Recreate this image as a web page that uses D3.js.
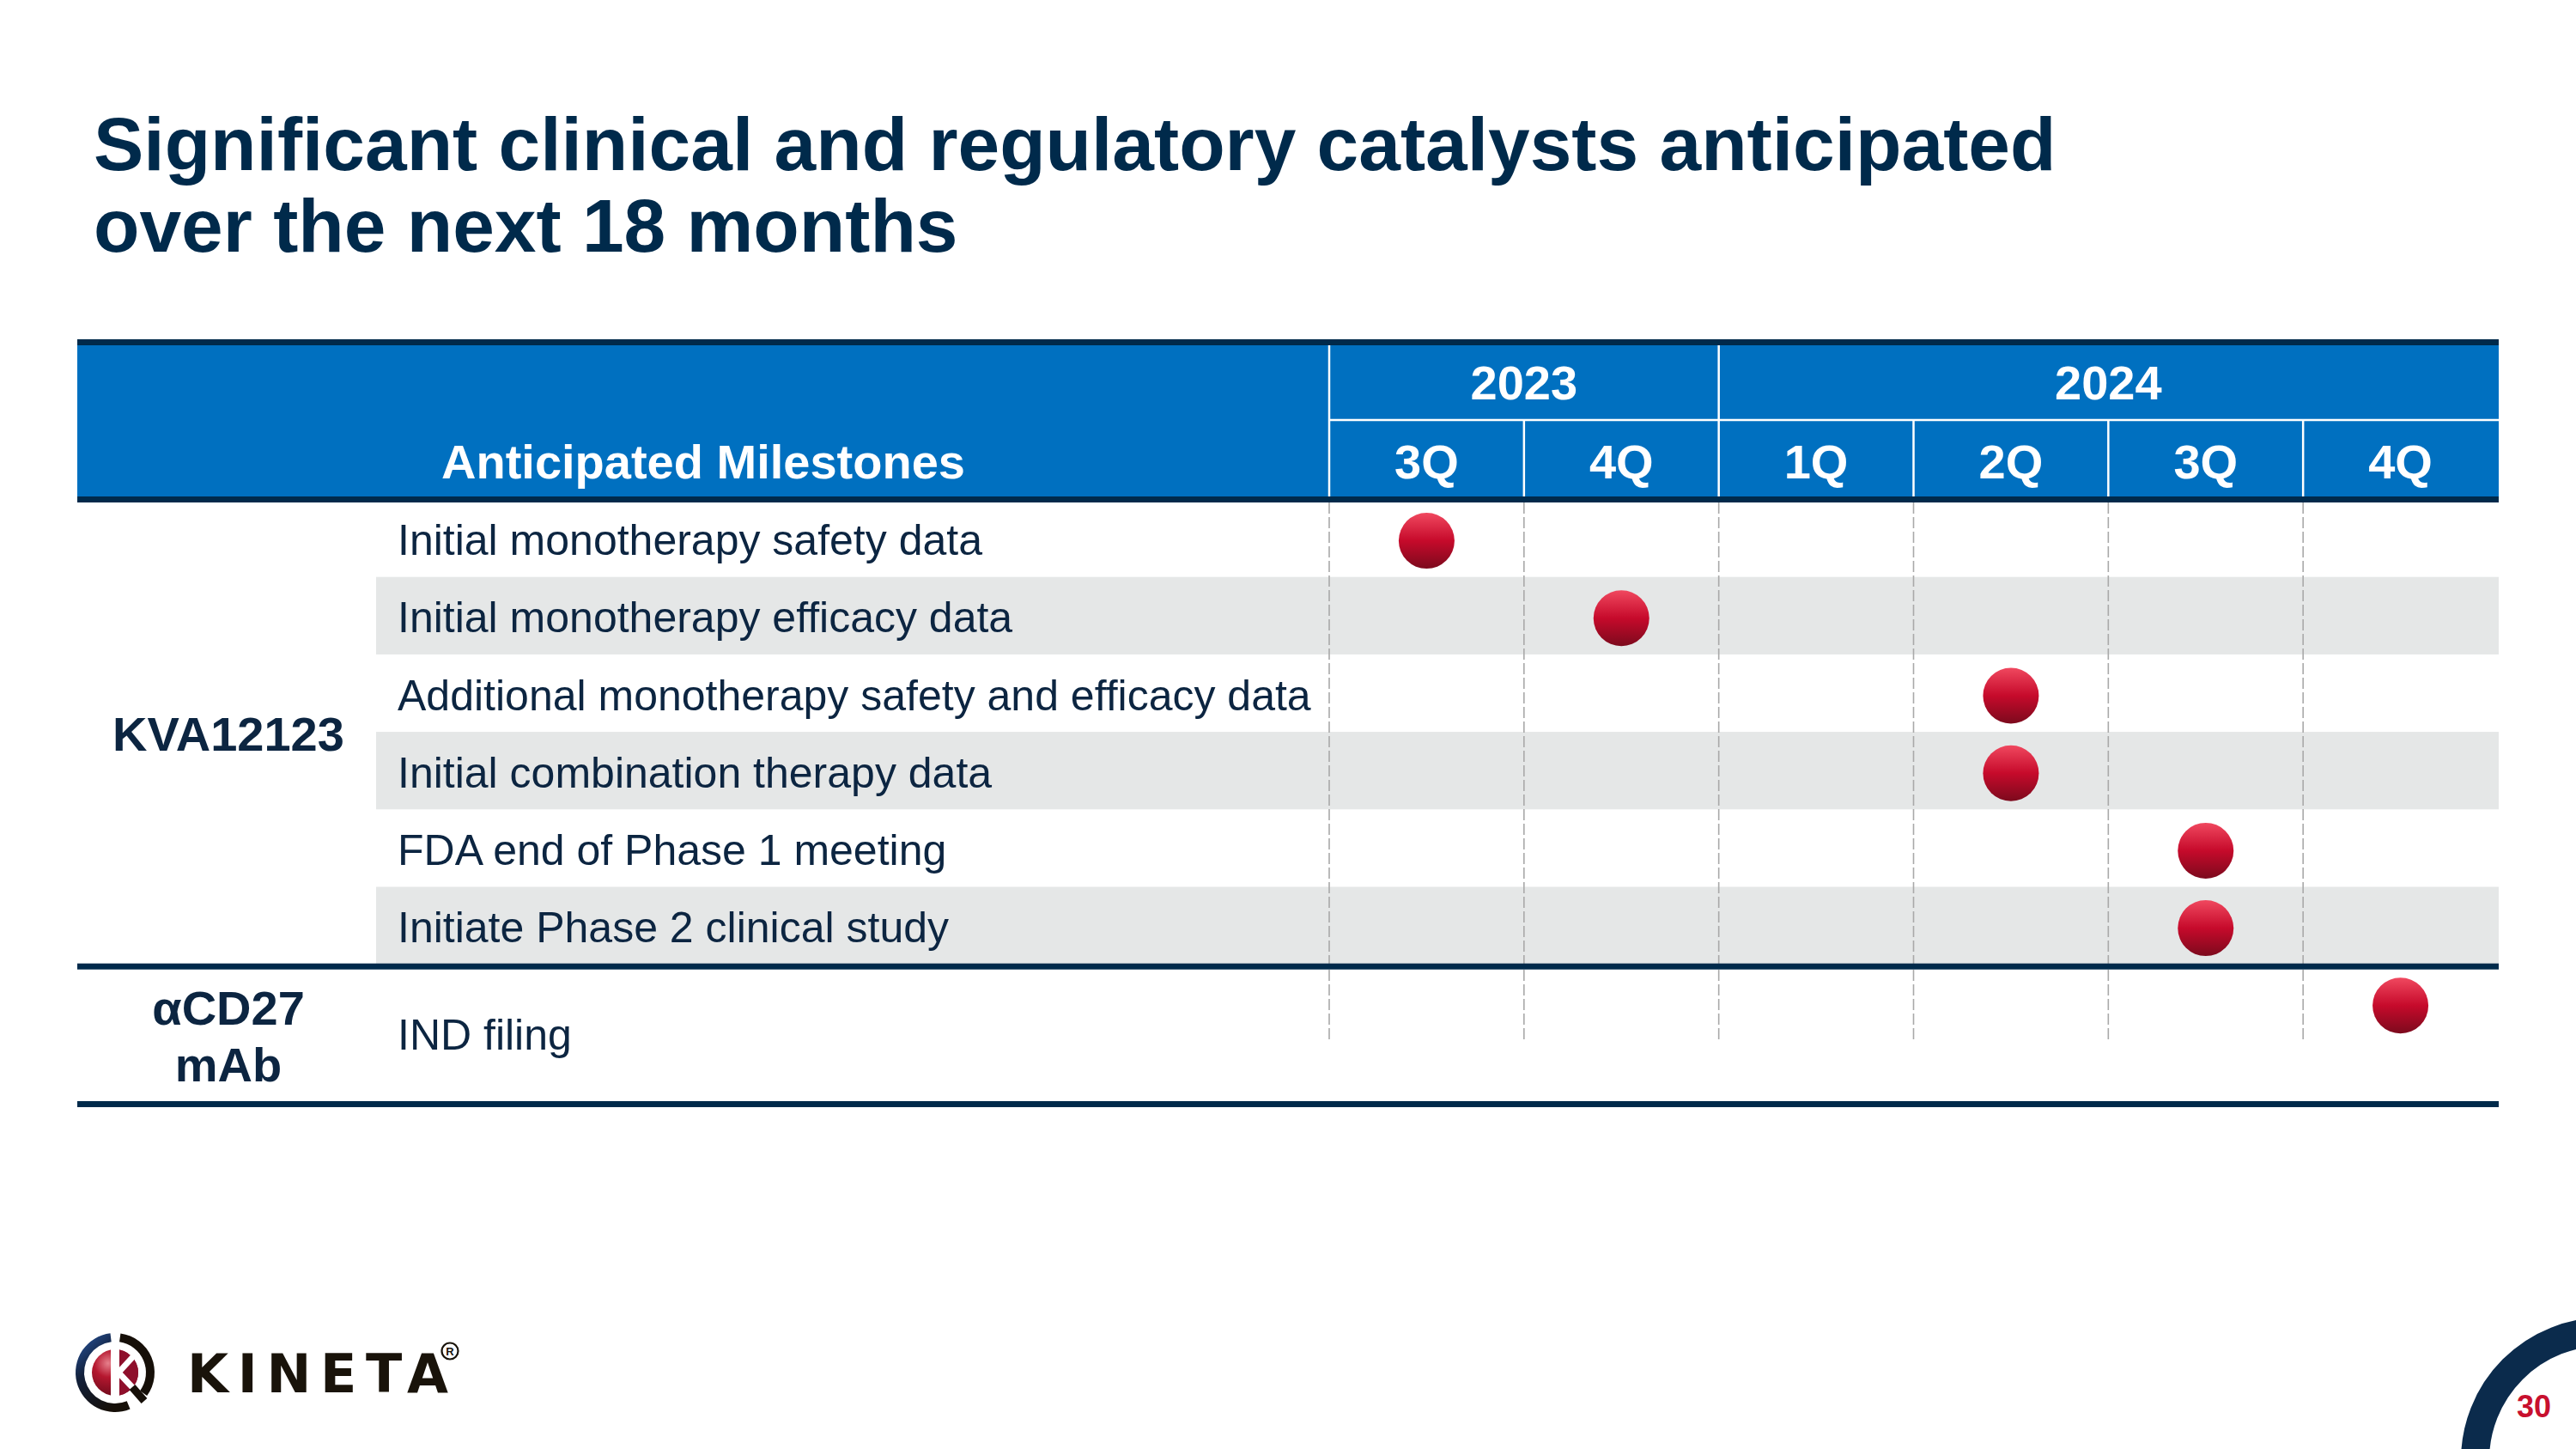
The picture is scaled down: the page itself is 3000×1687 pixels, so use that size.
<!DOCTYPE html>
<html><head><meta charset="utf-8">
<script src="https://cdn.jsdelivr.net/npm/d3@7"></script>
<style>html,body{margin:0;padding:0;background:#fff;} svg{display:block;}</style>
</head><body>
<script>
// ---------- data ----------
const titleLines = ["Significant clinical and regulatory catalysts anticipated", "over the next 18 months"];
const headerLabel = "Anticipated Milestones";
const years = ["2023", "2024"];
const quarters = ["3Q 2023", "4Q 2023", "1Q 2024", "2Q 2024", "3Q 2024", "4Q 2024"];
const quarterLabels = ["3Q", "4Q", "1Q", "2Q", "3Q", "4Q"];
const quarterYears = ["2023", "2023", "2024", "2024", "2024", "2024"];
const groups = ["KVA12123", "αCD27 mAb"];
const groupLabelLines = [["KVA12123"], ["αCD27", "mAb"]];
const milestones = [
  "Initial monotherapy safety data",
  "Initial monotherapy efficacy data",
  "Additional monotherapy safety and efficacy data",
  "Initial combination therapy data",
  "FDA end of Phase 1 meeting",
  "Initiate Phase 2 clinical study",
  "IND filing"
];
const milestoneGroups = ["KVA12123", "KVA12123", "KVA12123", "KVA12123", "KVA12123", "KVA12123", "αCD27 mAb"];
const milestoneQuarters = ["3Q 2023", "4Q 2023", "2Q 2024", "2Q 2024", "3Q 2024", "3Q 2024", "4Q 2024"];
const brandName = "KINETA";
const pageNumber = "30";

// ---------- layout / style ----------
const W = 3000, H = 1687;
const FONT = "'Liberation Sans', Arial, Helvetica, sans-serif";
const NAVY = "#002a4b", TEXT = "#0c2541", BLUE = "#0070c0", GRAY = "#e5e7e7";
const tableLeft = 90, tableRight = 2910, rowLabelLeft = 438, gridLeft = 1548;
const headTop = 402, yearBottom = 489, headBottom = 578, lineW = 7;
const tableBottom = 1282;

const svg = d3.select("body").append("svg").attr("width", W).attr("height", H)
  .style("font-family", FONT);
const defs = svg.append("defs");

const dotGrad = defs.append("linearGradient").attr("id", "dotGrad")
  .attr("x1", 0).attr("y1", 0).attr("x2", 0).attr("y2", 1);
dotGrad.append("stop").attr("offset", "0%").attr("stop-color", "#f0485f");
dotGrad.append("stop").attr("offset", "50%").attr("stop-color", "#c60a2b");
dotGrad.append("stop").attr("offset", "100%").attr("stop-color", "#7c0a1d");

// title
svg.append("g").selectAll("text").data(titleLines).join("text")
  .attr("x", 109).attr("y", (d, i) => 198 + i * 95)
  .attr("font-size", 87.5).attr("font-weight", "bold").attr("fill", NAVY)
  .text(d => d);

// scales
const x = d3.scaleBand().domain(quarters).range([gridLeft, tableRight - 1]);
const y = d3.scaleBand().domain(milestones).range([581.5, 581.5 + 90.2 * milestones.length]);
const bw = y.bandwidth();

// rows
const rowInfo = milestones.map((m, i) => {
  const g = milestoneGroups[i];
  const idxInGroup = milestones.filter((mm, j) => j < i && milestoneGroups[j] === g).length;
  const last = i === milestones.length - 1;
  const top = y(m), bottom = last ? tableBottom : y(m) + bw;
  return { m, g, idxInGroup, top, bottom, q: milestoneQuarters[i] };
});

// gray bands (alternate rows within each group)
svg.append("g").selectAll("rect").data(rowInfo.filter(r => r.idxInGroup % 2 === 1)).join("rect")
  .attr("x", rowLabelLeft).attr("width", tableRight - rowLabelLeft)
  .attr("y", r => y(r.m)).attr("height", bw).attr("fill", GRAY);

// dashed grid lines
svg.append("g").selectAll("line").data(quarters).join("line")
  .attr("x1", q => x(q)).attr("x2", q => x(q))
  .attr("y1", headBottom + lineW).attr("y2", y.range()[1])
  .attr("stroke", "#a9a9a9").attr("stroke-width", 1.6).attr("stroke-dasharray", "13 4");

// header
svg.append("rect").attr("x", tableLeft).attr("y", headTop).attr("width", tableRight - tableLeft)
  .attr("height", headBottom - headTop).attr("fill", BLUE);
svg.append("rect").attr("x", tableLeft).attr("y", headTop - lineW).attr("width", tableRight - tableLeft)
  .attr("height", lineW).attr("fill", NAVY);
svg.append("rect").attr("x", tableLeft).attr("y", headBottom).attr("width", tableRight - tableLeft)
  .attr("height", lineW).attr("fill", NAVY);

const hdr = svg.append("g").attr("stroke", "#fff").attr("stroke-width", 2.5);
hdr.append("line").attr("x1", gridLeft).attr("x2", gridLeft).attr("y1", headTop).attr("y2", headBottom);
hdr.append("line").attr("x1", gridLeft).attr("x2", tableRight).attr("y1", yearBottom).attr("y2", yearBottom);
hdr.selectAll("line.q").data(quarters.slice(1)).join("line").attr("class", "q")
  .attr("x1", q => x(q)).attr("x2", q => x(q)).attr("y1", yearBottom).attr("y2", headBottom);
hdr.selectAll("line.y").data(years.slice(1)).join("line").attr("class", "y")
  .attr("x1", yr => x(quarters[quarterYears.indexOf(yr)])).attr("x2", yr => x(quarters[quarterYears.indexOf(yr)]))
  .attr("y1", headTop).attr("y2", yearBottom);

svg.append("text").attr("x", (tableLeft + gridLeft) / 2).attr("y", 557)
  .attr("text-anchor", "middle").attr("font-size", 56).attr("font-weight", "bold").attr("fill", "#fff")
  .text(headerLabel);

svg.append("g").selectAll("text").data(years).join("text")
  .attr("x", yr => {
    const qs = quarters.filter((q, i) => quarterYears[i] === yr);
    return (x(qs[0]) + x(qs[qs.length - 1]) + x.bandwidth()) / 2;
  })
  .attr("y", 465).attr("text-anchor", "middle").attr("font-size", 56).attr("font-weight", "bold")
  .attr("fill", "#fff").text(d => d);

svg.append("g").selectAll("text").data(quarters).join("text")
  .attr("x", q => x(q) + x.bandwidth() / 2).attr("y", 557)
  .attr("text-anchor", "middle").attr("font-size", 56).attr("font-weight", "bold")
  .attr("fill", "#fff").text((q, i) => quarterLabels[i]);

// milestone labels
svg.append("g").selectAll("text").data(rowInfo).join("text")
  .attr("x", 463).attr("y", r => (r.top + r.bottom) / 2 + 2).attr("dy", "0.35em")
  .attr("font-size", 50).attr("fill", TEXT).text(r => r.m);

// group separators & bottom line
const groupExtents = groups.map(g => {
  const rs = rowInfo.filter(r => r.g === g);
  return { g, top: rs[0].top, bottom: rs[rs.length - 1].bottom };
});
svg.append("g").selectAll("rect").data(groupExtents.slice(1)).join("rect")
  .attr("x", tableLeft).attr("width", tableRight - tableLeft)
  .attr("y", d => d.top - 1).attr("height", lineW).attr("fill", NAVY);
svg.append("rect").attr("x", tableLeft).attr("width", tableRight - tableLeft)
  .attr("y", tableBottom).attr("height", lineW).attr("fill", NAVY);

// group labels
const gl = svg.append("g").selectAll("text").data(groupExtents).join("text")
  .attr("text-anchor", "middle").attr("font-size", 56).attr("font-weight", "bold").attr("fill", TEXT)
  .attr("transform", (d, i) => {
    const n = groupLabelLines[i].length;
    const cy = (d.top + d.bottom) / 2 + (d.top > 700 ? 4 : 2);
    return `translate(${(tableLeft + rowLabelLeft) / 2 + 2},${cy - (n - 1) * 66 / 2})`;
  });
gl.selectAll("tspan").data((d, i) => groupLabelLines[i]).join("tspan")
  .attr("x", 0).attr("y", (d, j) => j * 66).attr("dy", "0.35em").text(d => d);

// dots
svg.append("g").selectAll("circle").data(rowInfo).join("circle")
  .attr("cx", r => x(r.q) + x.bandwidth() / 2)
  .attr("cy", r => y(r.m) + bw / 2 + 3)
  .attr("r", 32.5).attr("fill", "url(#dotGrad)");

// ---------- logo ----------
const logo = svg.append("g").attr("transform", "translate(134,1598)");
const ringGrad = defs.append("linearGradient").attr("id", "ringGrad")
  .attr("x1", 0).attr("y1", 0).attr("x2", 0.6).attr("y2", 1);
ringGrad.append("stop").attr("offset", "0%").attr("stop-color", "#2a5aa8");
ringGrad.append("stop").attr("offset", "45%").attr("stop-color", "#12203a");
ringGrad.append("stop").attr("offset", "100%").attr("stop-color", "#160f08");
const sphGrad = defs.append("radialGradient").attr("id", "sphGrad")
  .attr("cx", 0.35).attr("cy", 0.3).attr("r", 0.75);
sphGrad.append("stop").attr("offset", "0%").attr("stop-color", "#e6808c");
sphGrad.append("stop").attr("offset", "40%").attr("stop-color", "#b5172f");
sphGrad.append("stop").attr("offset", "100%").attr("stop-color", "#6a0a1a");
const arc = d3.arc().innerRadius(36).outerRadius(46);
logo.append("path").attr("d", arc({ startAngle: 0.14, endAngle: 2.2 })).attr("fill", "#160f08");
logo.append("path").attr("d", arc({ startAngle: 2.75, endAngle: 2 * Math.PI - 0.12 })).attr("fill", "url(#ringGrad)");
logo.append("circle").attr("r", 27).attr("fill", "url(#sphGrad)");
logo.append("path").attr("d", d3.arc().innerRadius(0).outerRadius(27)({ startAngle: 0, endAngle: Math.PI }))
  .attr("fill", "#8f0f2b");
logo.append("rect").attr("x", -5).attr("y", -34).attr("width", 10).attr("height", 62).attr("fill", "#fff");
logo.append("line").attr("x1", 4).attr("y1", 0).attr("x2", 26).attr("y2", -24)
  .attr("stroke", "#fff").attr("stroke-width", 7);
logo.append("line").attr("x1", 4).attr("y1", 0).attr("x2", 36).attr("y2", 34)
  .attr("stroke", "#fff").attr("stroke-width", 7);
logo.append("line").attr("x1", 20).attr("y1", 17).attr("x2", 34).attr("y2", 33)
  .attr("stroke", "#160f08").attr("stroke-width", 9);

svg.append("text").attr("x", 218).attr("y", 1621)
  .attr("font-family", "'DejaVu Sans', sans-serif").attr("font-weight", "bold").attr("font-size", 62)
  .attr("textLength", 304).attr("lengthAdjust", "spacing").attr("fill", "#19130a").text(brandName);
const reg = svg.append("g").attr("transform", "translate(524,1573)");
reg.append("circle").attr("r", 9.5).attr("fill", "none").attr("stroke", "#19130a").attr("stroke-width", 2.2);
reg.append("text").attr("text-anchor", "middle").attr("dy", "0.36em").attr("font-size", 13)
  .attr("font-weight", "bold").attr("fill", "#19130a").text("R");

// page number ring
svg.append("circle").attr("cx", 3032).attr("cy", 1700).attr("r", 149.5)
  .attr("fill", "none").attr("stroke", "#0b2b4c").attr("stroke-width", 33);
svg.append("text").attr("x", 2951).attr("y", 1650).attr("text-anchor", "middle")
  .attr("font-size", 36).attr("font-weight", "bold").attr("fill", "#c8102e").text(pageNumber);
</script>
</body></html>
